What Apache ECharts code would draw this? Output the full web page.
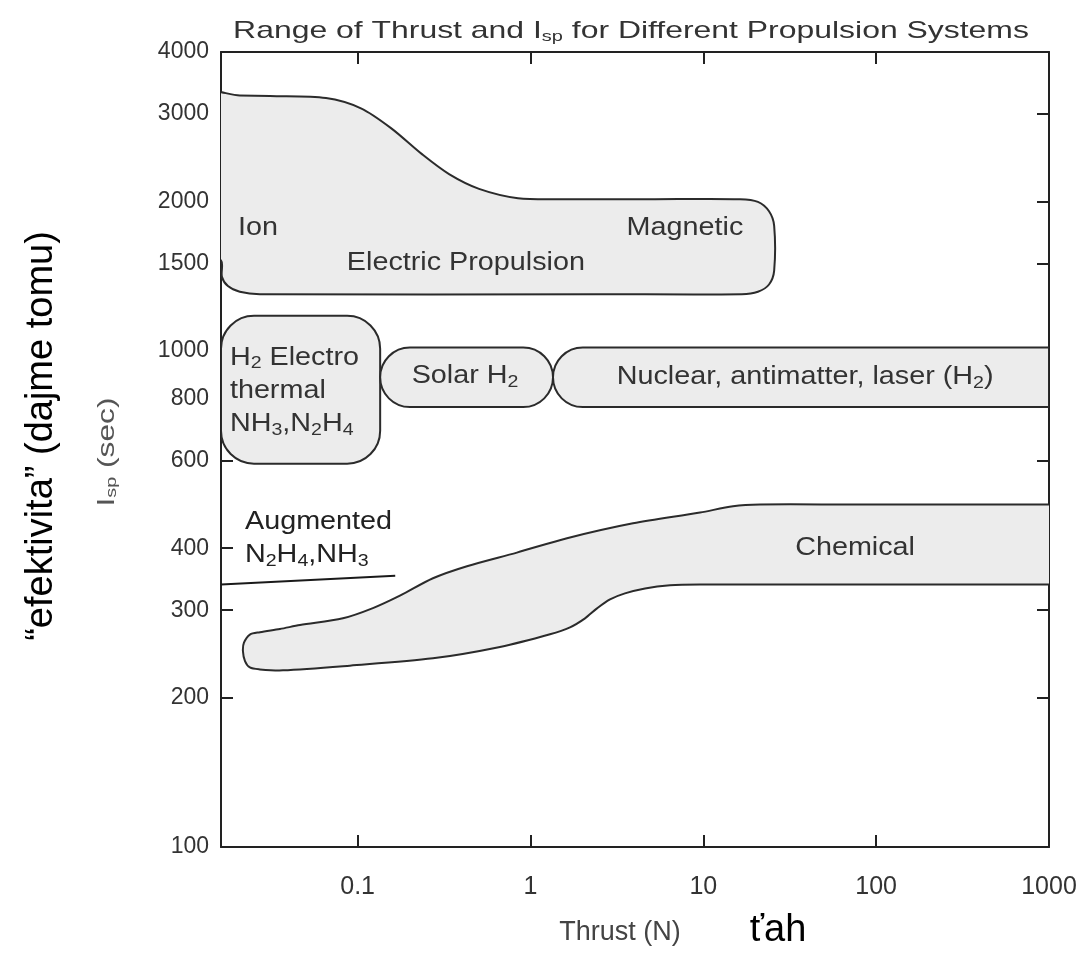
<!DOCTYPE html>
<html>
<head>
<meta charset="utf-8">
<script src="https://cdn.jsdelivr.net/npm/echarts@6/dist/echarts.min.js"></script>
<style>
  html, body { margin: 0; padding: 0; background: #fff; }
  #chart { width: 1088px; height: 954px; }
</style>
</head>
<body>
<div id="chart"></div>
<script>
// axis ranges and tick values
const thrustMin = 0.0162, thrustMax = 1000;
const ispMin = 100, ispMax = 4000;
const thrustTicks = [0.1, 1, 10, 100, 1000];
const ispTicks = [100, 200, 300, 400, 600, 800, 1000, 1500, 2000, 3000, 4000];

// region outlines, [thrust (N), Isp (sec)]; points left of the axis get clipped
const electricOutline = [
  [0.0125, 3285], [0.0208, 3270], [0.0311, 3260], [0.0656, 3230], [0.1045, 3080],
  [0.156, 2810], [0.2356, 2490], [0.338, 2270], [0.504, 2120], [0.847, 2030],
  [1.561, 2020], [4.91, 2020], [16.3, 2020], [20.7, 1995], [24.0, 1910],
  [25.7, 1785], [25.7, 1450], [24.0, 1360], [20.7, 1315], [16.7, 1300],
  [2.53, 1300], [0.0272, 1300], [0.0208, 1315], [0.01776, 1350], [0.0164, 1410],
  [0.0162, 1520], [0.0125, 1560]
];
const chemicalOutline = [
  // upper edge, left to right
  [0.0238, 268], [0.0272, 271], [0.0355, 275], [0.0464, 280], [0.0822, 289],
  [0.1226, 303], [0.1757, 321], [0.2728, 348], [0.4291, 368], [0.835, 392],
  [1.627, 419], [3.92, 449], [9.57, 472], [14.85, 486], [21.3, 490],
  [70.6, 490], [268, 490], [1000, 490], [2000, 490],
  // lower edge, right to left
  [2000, 338], [1000, 338], [137.7, 338], [21.3, 338], [9.57, 338],
  [6.42, 336.7], [4.60, 332], [3.52, 324.4], [2.885, 315.5], [2.426, 302.6],
  [2.068, 288.9], [1.693, 277.1], [1.297, 268.3], [0.666, 253], [0.2728, 240],
  [0.0902, 232], [0.0370, 227], [0.0272, 228], [0.0238, 230], [0.0223, 237],
  [0.0217, 248], [0.0220, 258]
];
// boxes, [lower-left, upper-right]
const electrothermalBox = [[0.0162, 592], [0.135, 1176]];
const solarBox = [[0.135, 770], [1.35, 1015]];
const nuclearBox = [[1.35, 770], [1000, 1015]];
// augmented hydrazine line
const augmentedLine = [[0.0162, 338], [0.165, 352]];

const notes = [
  { text: 'Ion', at: [0.0265, 1768] },
  { text: 'Magnetic', at: [7.83, 1768] },
  { text: 'Electric Propulsion', at: [0.423, 1503] },
  { text: 'H{s|2} Electro', at: [0.01824, 968], align: 'left' },
  { text: 'thermal', at: [0.01824, 831], align: 'left' },
  { text: 'NH{s|3},N{s|2}H{s|4}', at: [0.01824, 710], align: 'left' },
  { text: 'Solar H{s|2}', at: [0.418, 887] },
  { text: 'Nuclear, antimatter, laser (H{s|2})', at: [38.8, 883] },
  { text: 'Chemical', at: [75.5, 401] },
  { text: 'Augmented', at: [0.0223, 451], align: 'left', color: '#222' },
  { text: 'N{s|2}H{s|4},NH{s|3}', at: [0.0223, 387], align: 'left', color: '#222' }
];

const fillColor = '#ececec';
const edgeColor = '#2b2b2b';
const font = '"Liberation Sans", Arial, Helvetica, sans-serif';
const subRich = { s: { fontSize: 17, fontFamily: font, padding: [12, 0, 0, 0] } };

let myChart = echarts.init(document.getElementById('chart'));

function outlineItem(points) {
  return function (params, api) {
    if (params.dataIndex !== 0) return null;
    return {
      type: 'polygon',
      shape: { points: points.map(p => api.coord(p)), smooth: 0.3 },
      style: { fill: fillColor, stroke: edgeColor, lineWidth: 2 }
    };
  };
}

function boxItem(box, corners) {
  return function (params, api) {
    if (params.dataIndex !== 0) return null;
    const a = api.coord(box[0]), b = api.coord(box[1]);
    const h = Math.abs(b[1] - a[1]);
    return {
      type: 'rect',
      shape: {
        x: Math.min(a[0], b[0]), y: Math.min(a[1], b[1]),
        width: Math.abs(b[0] - a[0]), height: h, r: corners(h)
      },
      style: { fill: fillColor, stroke: edgeColor, lineWidth: 2 }
    };
  };
}

function shapeSeries(name, data, renderItem) {
  return {
    name: name, type: 'custom', clip: true, silent: true,
    data: data, renderItem: renderItem
  };
}

const tickStyle = { inside: true, length: 12, lineStyle: { color: '#222', width: 2 } };

let option = {
  animation: false,
  backgroundColor: '#fff',
  grid: { left: 221, right: 39, top: 52, bottom: 107, outerBoundsMode: 'none' },
  graphic: [
    {
      type: 'text', x: 631, y: 31, scaleX: 1.33,
      style: {
        text: 'Range of Thrust and I{s|sp} for Different Propulsion Systems',
        fontSize: 24, fontFamily: font, fill: '#333', align: 'center', verticalAlign: 'middle',
        rich: { s: { fontSize: 15, fontFamily: font, fill: '#333', padding: [11, 0, 0, 0] } }
      }
    },
    {
      // y axis title, drawn here so it can be stretched like the source
      type: 'text', x: 107, y: 452, rotation: Math.PI / 2, scaleX: 1.32,
      style: {
        text: 'I{s|sp} (sec)',
        fontSize: 24, fontFamily: font, fill: '#555', align: 'center', verticalAlign: 'middle',
        rich: { s: { fontSize: 15, fontFamily: font, fill: '#555', padding: [10, 0, 0, 0] } }
      }
    },
    {
      type: 'text', x: 42, y: 436, rotation: Math.PI / 2,
      style: {
        text: '\u201cefektivita\u201d (dajme tomu)',
        fontSize: 38, fontFamily: font, fill: '#000', align: 'center', verticalAlign: 'middle'
      }
    },
    {
      type: 'text', x: 778, y: 931,
      style: {
        text: '\u0165ah', fontSize: 38, fontFamily: font, fill: '#000',
        align: 'center', verticalAlign: 'middle'
      }
    }
  ],
  xAxis: [
    {
      type: 'log', logBase: 10, min: thrustMin, max: thrustMax,
      name: 'Thrust (N)', nameLocation: 'middle', nameGap: 72,
      nameTextStyle: { fontSize: 27, fontFamily: font, color: '#444', padding: [0, 30, 0, 0] },
      axisLine: { show: true, lineStyle: { color: '#222', width: 2 } },
      axisTick: Object.assign({ customValues: thrustTicks }, tickStyle),
      axisLabel: {
        customValues: thrustTicks, fontSize: 25, fontFamily: font, color: '#333', margin: 28,
        formatter: v => String(v)
      },
      splitLine: { show: false }, minorTick: { show: false }
    },
    {
      type: 'log', logBase: 10, min: thrustMin, max: thrustMax, position: 'top',
      axisLine: { show: true, lineStyle: { color: '#222', width: 2 } },
      axisTick: Object.assign({ customValues: thrustTicks }, tickStyle),
      axisLabel: { show: false },
      splitLine: { show: false }
    }
  ],
  yAxis: [
    {
      type: 'log', logBase: 10, min: ispMin, max: ispMax,
      axisLine: { show: true, lineStyle: { color: '#222', width: 2 } },
      axisTick: Object.assign({ customValues: ispTicks }, tickStyle),
      axisLabel: {
        customValues: ispTicks, fontSize: 23, fontFamily: font, color: '#333', margin: 12,
        formatter: v => String(Math.round(v))
      },
      splitLine: { show: false }, minorTick: { show: false }
    },
    {
      type: 'log', logBase: 10, min: ispMin, max: ispMax, position: 'right',
      axisLine: { show: true, lineStyle: { color: '#222', width: 2 } },
      axisTick: Object.assign({ customValues: ispTicks }, tickStyle),
      axisLabel: { show: false },
      splitLine: { show: false }
    }
  ],
  series: [
    shapeSeries('Electric', electricOutline, outlineItem(electricOutline)),
    shapeSeries('Chemical', chemicalOutline, outlineItem(chemicalOutline)),
    shapeSeries('Electrothermal', electrothermalBox, boxItem(electrothermalBox, h => 33)),
    shapeSeries('Solar', solarBox, boxItem(solarBox, h => h / 2)),
    shapeSeries('Nuclear', nuclearBox, boxItem(nuclearBox, h => [h / 2, 0, 0, h / 2])),
    {
      name: 'Augmented', type: 'line', data: augmentedLine, symbol: 'none', silent: true,
      lineStyle: { color: '#1a1a1a', width: 2 }
    },
    {
      name: 'notes', type: 'custom', silent: true,
      data: notes.map(n => n.at),
      renderItem: function (params, api) {
        const n = notes[params.dataIndex];
        const p = api.coord(n.at);
        return {
          type: 'text', x: p[0], y: p[1], scaleX: 1.15,
          style: {
            text: n.text, fontSize: 25, fontFamily: font, fill: n.color || '#333',
            align: n.align || 'center', verticalAlign: 'middle', rich: subRich
          }
        };
      }
    }
  ]
};

myChart.setOption(option);
</script>
</body>
</html>
